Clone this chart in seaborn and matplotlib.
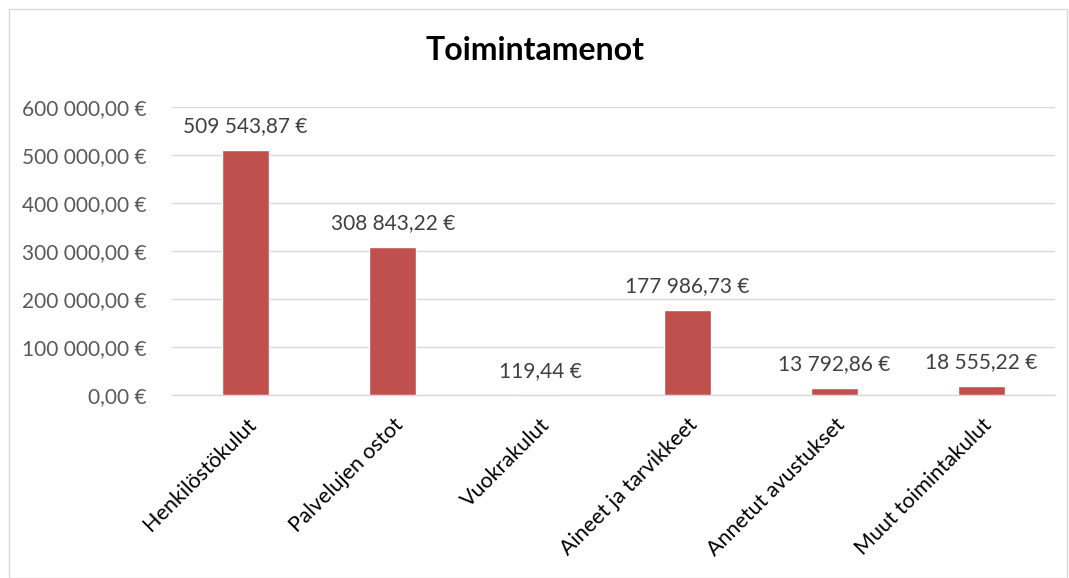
import matplotlib
matplotlib.use("Agg")
import matplotlib.pyplot as plt
import seaborn as sns
import pandas as pd
from matplotlib.ticker import FuncFormatter
from matplotlib.patches import Rectangle

categories = ["Henkilöstökulut", "Palvelujen ostot", "Vuokrakulut",
              "Aineet ja tarvikkeet", "Annetut avustukset", "Muut toimintakulut"]
values = [509543.87, 308843.22, 119.44, 177986.73, 13792.86, 18555.22]
title = "Toimintamenot"


def fmt_eur(v):
    s = f"{v:,.2f}"
    s = s.replace(",", " ").replace(".", ",")
    return s + " €"


sns.set_theme(style="white")
plt.rcParams["font.family"] = ["Lato", "DejaVu Sans"]

fig = plt.figure(figsize=(10.69, 5.78), dpi=100)
ax = fig.add_axes([0.161, 0.3166, 0.826, 0.4984])

df = pd.DataFrame({"cat": categories, "val": values})
sns.barplot(data=df, x="cat", y="val", color="#C0504D", saturation=1,
            width=0.32, ax=ax, zorder=3)

ax.set_ylim(0, 600000)
ax.set_yticks(range(0, 600001, 100000))
ax.yaxis.set_major_formatter(FuncFormatter(lambda v, p: fmt_eur(v)))
ax.grid(axis="y", color="#D9D9D9", linewidth=1, zorder=0)
for s in ["top", "right", "left"]:
    ax.spines[s].set_visible(False)
ax.spines["bottom"].set_color("#D9D9D9")
ax.spines["bottom"].set_linewidth(1)
ax.tick_params(axis="y", labelsize=15, colors="#595959", length=0, pad=18)
ax.tick_params(axis="x", length=0, labelsize=15.5, labelcolor="black", pad=14)
plt.setp(ax.get_xticklabels(), rotation=45, ha="right", rotation_mode="anchor")
ax.set_xlabel("")
ax.set_ylabel("")

for i, v in enumerate(values):
    ax.annotate(fmt_eur(v), (i, v), xytext=(0, 10), textcoords="offset points",
                ha="center", va="bottom", fontsize=15, color="#404040")

fig.text(0.5, 0.912, title, ha="center", va="center", fontsize=23,
         fontweight="bold", color="black")

fig.patches.append(Rectangle((0.008, 0.0), 0.99, 0.985, transform=fig.transFigure,
                             fill=False, edgecolor="#D9D9D9", linewidth=1))

fig.savefig("out.png", dpi=100)
